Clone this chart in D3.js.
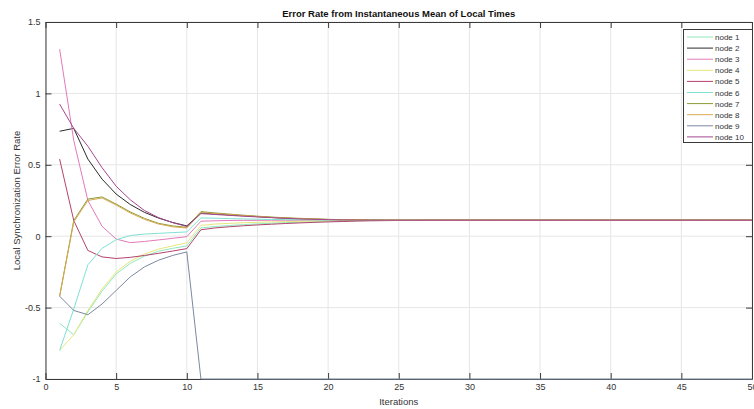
<!DOCTYPE html>
<html>
<head>
<meta charset="utf-8">
<script src="https://cdn.jsdelivr.net/npm/d3@7/dist/d3.min.js"></script>
<style>
  html, body { margin: 0; padding: 0; background: #ffffff; }
  svg { display: block; font-family: "Liberation Sans", Arial, sans-serif; }
</style>
</head>
<body>
<svg id="chart" width="754" height="409"></svg>
<script>
// Iteration index (x axis)
const iterations = [1,2,3,4,5,6,7,8,9,10,11,12,13,14,15,16,17,18,19,20,21,22,23,24,25,26,27,28,29,30,31,32,33,34,35,36,37,38,39,40,41,42,43,44,45,46,47,48,49,50];

// Error rate of each node per iteration
const node1 = [-0.61,-0.69,-0.53,-0.385,-0.265,-0.19,-0.14,-0.105,-0.085,-0.068,0.058,0.068,0.075,0.081,0.086,0.091,0.095,0.098,0.101,0.104,0.106,0.108,0.109,0.110,0.111,0.112,0.112,0.112,0.112,0.112,0.112,0.112,0.112,0.112,0.112,0.112,0.112,0.112,0.112,0.112,0.112,0.112,0.112,0.112,0.112,0.112,0.112,0.112,0.112,0.112];
const node2 = [0.735,0.755,0.54,0.40,0.295,0.222,0.167,0.127,0.096,0.072,0.162,0.156,0.149,0.143,0.137,0.131,0.126,0.122,0.119,0.117,0.115,0.114,0.113,0.112,0.112,0.112,0.112,0.112,0.112,0.112,0.112,0.112,0.112,0.112,0.112,0.112,0.112,0.112,0.112,0.112,0.112,0.112,0.112,0.112,0.112,0.112,0.112,0.112,0.112,0.112];
const node3 = [1.31,0.67,0.25,0.07,-0.02,-0.045,-0.037,-0.026,-0.015,-0.003,0.105,0.108,0.110,0.111,0.111,0.112,0.112,0.112,0.112,0.112,0.112,0.112,0.112,0.112,0.112,0.112,0.112,0.112,0.112,0.112,0.112,0.112,0.112,0.112,0.112,0.112,0.112,0.112,0.112,0.112,0.112,0.112,0.112,0.112,0.112,0.112,0.112,0.112,0.112,0.112];
const node4 = [-0.80,-0.69,-0.52,-0.37,-0.25,-0.175,-0.125,-0.09,-0.068,-0.046,0.076,0.085,0.090,0.094,0.097,0.100,0.102,0.104,0.106,0.107,0.108,0.109,0.110,0.111,0.111,0.112,0.112,0.112,0.112,0.112,0.112,0.112,0.112,0.112,0.112,0.112,0.112,0.112,0.112,0.112,0.112,0.112,0.112,0.112,0.112,0.112,0.112,0.112,0.112,0.112];
const node5 = [0.54,0.11,-0.10,-0.145,-0.156,-0.148,-0.135,-0.12,-0.104,-0.087,0.045,0.058,0.066,0.073,0.079,0.084,0.089,0.093,0.097,0.100,0.103,0.106,0.108,0.109,0.110,0.111,0.112,0.112,0.112,0.112,0.112,0.112,0.112,0.112,0.112,0.112,0.112,0.112,0.112,0.112,0.112,0.112,0.112,0.112,0.112,0.112,0.112,0.112,0.112,0.112];
const node6 = [-0.80,-0.51,-0.20,-0.085,-0.025,0.005,0.015,0.02,0.025,0.03,0.128,0.126,0.123,0.121,0.119,0.117,0.116,0.115,0.114,0.113,0.113,0.112,0.112,0.112,0.112,0.112,0.112,0.112,0.112,0.112,0.112,0.112,0.112,0.112,0.112,0.112,0.112,0.112,0.112,0.112,0.112,0.112,0.112,0.112,0.112,0.112,0.112,0.112,0.112,0.112];
const node7 = [-0.42,0.11,0.26,0.275,0.225,0.17,0.125,0.09,0.072,0.062,0.172,0.163,0.155,0.147,0.140,0.134,0.129,0.125,0.121,0.118,0.116,0.115,0.114,0.113,0.112,0.112,0.112,0.112,0.112,0.112,0.112,0.112,0.112,0.112,0.112,0.112,0.112,0.112,0.112,0.112,0.112,0.112,0.112,0.112,0.112,0.112,0.112,0.112,0.112,0.112];
const node8 = [-0.42,0.10,0.25,0.268,0.218,0.163,0.118,0.085,0.066,0.057,0.165,0.158,0.151,0.144,0.138,0.132,0.127,0.123,0.120,0.117,0.115,0.114,0.113,0.112,0.112,0.112,0.112,0.112,0.112,0.112,0.112,0.112,0.112,0.112,0.112,0.112,0.112,0.112,0.112,0.112,0.112,0.112,0.112,0.112,0.112,0.112,0.112,0.112,0.112,0.112];
const node9 = [-0.42,-0.52,-0.55,-0.475,-0.38,-0.285,-0.215,-0.168,-0.135,-0.11,-1,-1,-1,-1,-1,-1,-1,-1,-1,-1,-1,-1,-1,-1,-1,-1,-1,-1,-1,-1,-1,-1,-1,-1,-1,-1,-1,-1,-1,-1,-1,-1,-1,-1,-1,-1,-1,-1,-1,-1];
const node10 = [0.925,0.755,0.63,0.48,0.35,0.255,0.18,0.13,0.095,0.068,0.158,0.152,0.146,0.140,0.135,0.130,0.125,0.121,0.118,0.116,0.114,0.113,0.112,0.112,0.112,0.112,0.112,0.112,0.112,0.112,0.112,0.112,0.112,0.112,0.112,0.112,0.112,0.112,0.112,0.112,0.112,0.112,0.112,0.112,0.112,0.112,0.112,0.112,0.112,0.112];

const seriesNames = ["node 1","node 2","node 3","node 4","node 5","node 6","node 7","node 8","node 9","node 10"];
const seriesValues = [node1,node2,node3,node4,node5,node6,node7,node8,node9,node10];
const seriesColors = ["#8fe8bc","#2b2b2b","#e27ab8","#e6e67e","#b2436e","#7fe0d2","#8c9a34","#d9a850","#7c88a0","#a4488f"];

const xTicks = [0,5,10,15,20,25,30,35,40,45,50];
const yTicks = [-1,-0.5,0,0.5,1,1.5];
const yTickLabels = ["-1","-0.5","0","0.5","1","1.5"];

const titleText = "Error Rate from Instantaneous Mean of Local Times";
const xLabelText = "Iterations";
const yLabelText = "Local Synchronization Error Rate";

const svg = d3.select("#chart");
const plot = { left: 45.5, right: 752, top: 22, bottom: 379 };

const x = d3.scaleLinear().domain([0, 50]).range([plot.left, plot.right]);
const y = d3.scaleLinear().domain([-1, 1.5]).range([plot.bottom, plot.top]);

const axisColor = "#3a3a3a";
const textColor = "#333333";

// grid
const grid = svg.append("g");
grid.selectAll("line.gx").data(xTicks).join("line")
  .attr("x1", d => x(d)).attr("x2", d => x(d))
  .attr("y1", plot.top).attr("y2", plot.bottom)
  .attr("stroke", "#e6e6e6").attr("stroke-width", 1);
grid.selectAll("line.gy").data(yTicks).join("line")
  .attr("x1", plot.left).attr("x2", plot.right)
  .attr("y1", d => y(d)).attr("y2", d => y(d))
  .attr("stroke", "#e6e6e6").attr("stroke-width", 1);

// axes (ticks pointing inward)
function styleAxis(g) {
  g.select(".domain").attr("stroke", axisColor).attr("stroke-width", 1);
  g.selectAll(".tick line").attr("stroke", axisColor).attr("stroke-width", 1);
  g.selectAll(".tick text").attr("fill", textColor).attr("font-size", 9)
    .attr("font-family", "'Liberation Sans', Arial, sans-serif");
}

const xAxis = d3.axisBottom(x).tickValues(xTicks).tickSizeInner(-6).tickSizeOuter(0).tickPadding(5).tickFormat(d3.format("d"));
svg.append("g").attr("transform", `translate(0,${plot.bottom})`).call(xAxis).call(styleAxis);

const xTop = d3.axisTop(x).tickValues(xTicks).tickSizeInner(-6).tickSizeOuter(0).tickFormat("");
svg.append("g").attr("transform", `translate(0,${plot.top})`).call(xTop).call(styleAxis);

const yAxis = d3.axisLeft(y).tickValues(yTicks).tickSizeInner(-6).tickSizeOuter(0).tickPadding(5)
  .tickFormat((d, i) => yTickLabels[i]);
svg.append("g").attr("transform", `translate(${plot.left},0)`).call(yAxis).call(styleAxis);

const yRight = d3.axisRight(y).tickValues(yTicks).tickSizeInner(-6).tickSizeOuter(0).tickFormat("");
svg.append("g").attr("transform", `translate(${plot.right},0)`).call(yRight).call(styleAxis);

// lines
svg.append("defs").append("clipPath").attr("id", "plotClip")
  .append("rect").attr("x", plot.left).attr("y", plot.top - 1)
  .attr("width", plot.right - plot.left).attr("height", plot.bottom - plot.top + 2);

const line = d3.line().x((d, i) => x(iterations[i])).y(d => y(d));
const lines = svg.append("g").attr("clip-path", "url(#plotClip)");
seriesValues.forEach((vals, k) => {
  lines.append("path").datum(vals)
    .attr("d", line)
    .attr("fill", "none")
    .attr("stroke", seriesColors[k])
    .attr("stroke-width", 1)
    .attr("stroke-linejoin", "round");
});

// title and axis labels
svg.append("text").attr("x", (plot.left + plot.right) / 2).attr("y", 17)
  .attr("text-anchor", "middle").attr("font-weight", "bold").attr("font-size", 9.5)
  .attr("fill", "#111").text(titleText);

svg.append("text").attr("x", (plot.left + plot.right) / 2).attr("y", 405)
  .attr("text-anchor", "middle").attr("font-size", 9.5).attr("fill", textColor).text(xLabelText);

svg.append("text").attr("transform", `translate(20,${(plot.top + plot.bottom) / 2}) rotate(-90)`)
  .attr("text-anchor", "middle").attr("font-size", 9.5).attr("fill", textColor).text(yLabelText);

// legend
const lg = { x: 683, y: 29, w: 69, h: 113, row: 11.1 };
const legend = svg.append("g");
legend.append("rect").attr("x", lg.x + 0.5).attr("y", lg.y + 0.5)
  .attr("width", lg.w).attr("height", lg.h)
  .attr("fill", "#ffffff").attr("stroke", axisColor).attr("stroke-width", 1);
const rows = legend.selectAll("g.row").data(seriesNames).join("g")
  .attr("transform", (d, i) => `translate(${lg.x},${lg.y + 8 + i * lg.row})`);
rows.append("line").attr("x1", 4).attr("x2", 30).attr("y1", 0).attr("y2", 0)
  .attr("stroke", (d, i) => seriesColors[i]).attr("stroke-width", 1);
rows.append("text").attr("x", 32).attr("y", 3).attr("font-size", 8)
  .attr("fill", textColor).text(d => d);
</script>
</body>
</html>
